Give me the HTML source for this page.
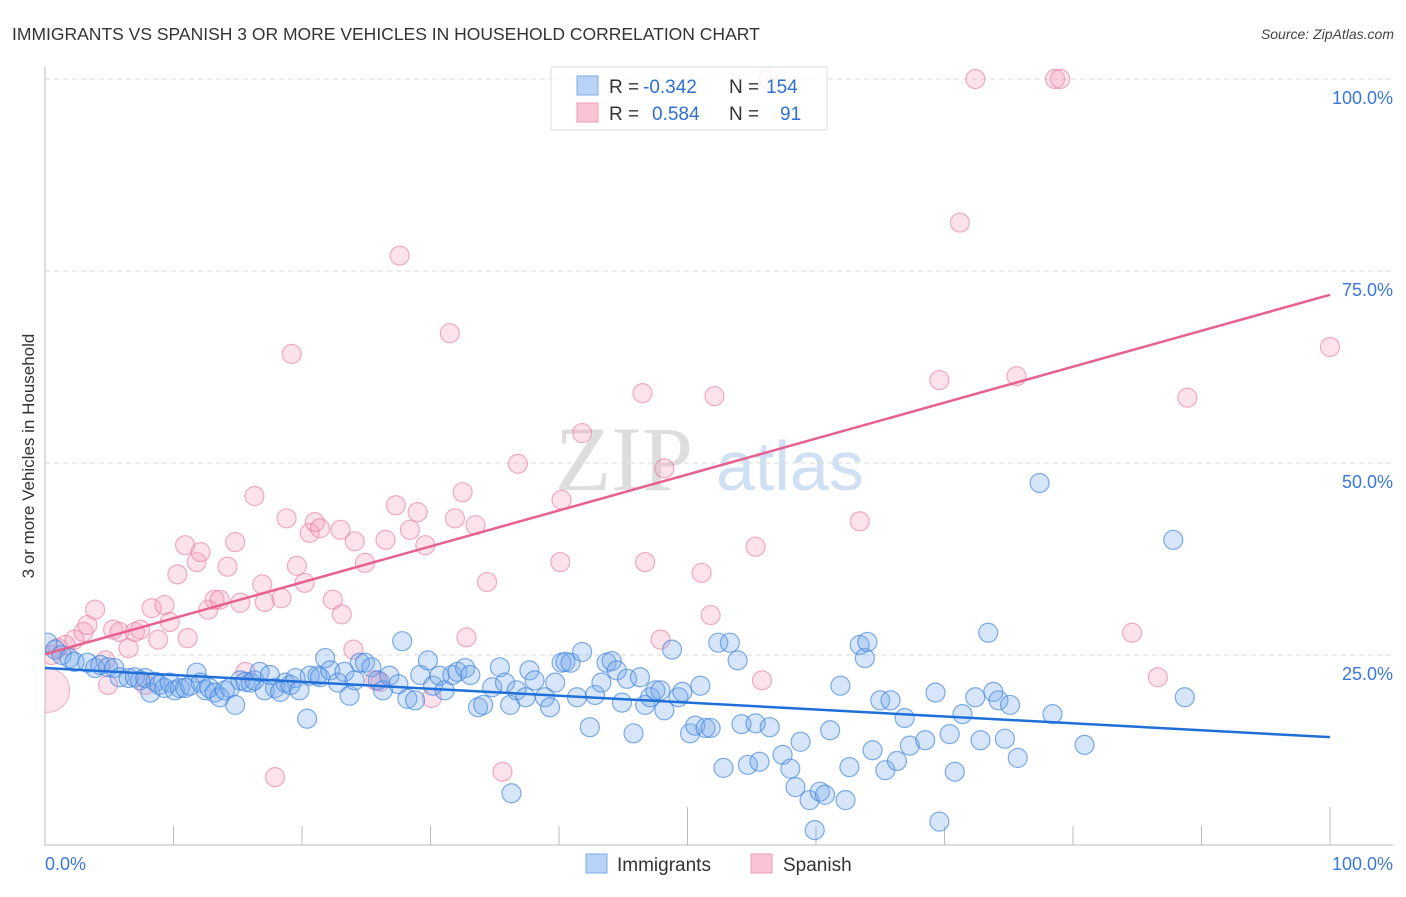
<!DOCTYPE html>
<html><head><meta charset="utf-8"><style>
html,body{margin:0;padding:0;background:#fff;}
body{width:1406px;height:892px;overflow:hidden;font-family:"Liberation Sans",sans-serif;}
</style></head><body>
<svg id="chart" width="1406" height="892" xmlns="http://www.w3.org/2000/svg" font-family="Liberation Sans, sans-serif">
<defs><clipPath id="plotclip"><rect x="45" y="60" width="1360" height="786"/></clipPath></defs>
<text x="12" y="40" font-size="17.5" fill="#333">IMMIGRANTS VS SPANISH 3 OR MORE VEHICLES IN HOUSEHOLD CORRELATION CHART</text>
<text x="1394" y="39" font-size="14" fill="#444" font-style="italic" text-anchor="end">Source: ZipAtlas.com</text>
<g>
<text x="555" y="490" font-size="92" fill="#ddd" font-family="Liberation Serif, serif">ZIP</text>
<text x="716" y="490" font-size="70" fill="#cfe0f4">atlas</text>
</g>
<g id="grid"></g>
<g id="axes"></g>
<g id="marks" clip-path="url(#plotclip)"></g>
<text transform="translate(34,456) rotate(-90)" font-size="17" fill="#333" text-anchor="middle">3 or more Vehicles in Household</text>
<g>
<rect x="551" y="67" width="276" height="63" fill="#fff" fill-opacity="0.85" stroke="#ddd"/>
<rect x="577" y="76" width="21" height="19" fill="#b8d3f5" stroke="#7eaee8"/>
<rect x="577" y="103" width="21" height="19" fill="#f9c4d4" stroke="#ee9cb7"/>
<text x="609" y="93" font-size="19" fill="#333">R =</text>
<text x="643" y="93" font-size="19" fill="#2f6fd0">-0.342</text>
<text x="729" y="93" font-size="19" fill="#333">N =</text>
<text x="766" y="93" font-size="19" fill="#2f6fd0">154</text>
<text x="609" y="120" font-size="19" fill="#333">R =</text>
<text x="652" y="120" font-size="19" fill="#2f6fd0">0.584</text>
<text x="729" y="120" font-size="19" fill="#333">N =</text>
<text x="780" y="120" font-size="19" fill="#2f6fd0">91</text>
</g>
<g>
<rect x="586" y="854" width="21" height="19" fill="#b8d3f5" stroke="#7eaee8"/>
<text x="617" y="871" font-size="19" fill="#333">Immigrants</text>
<rect x="751" y="854" width="21" height="19" fill="#f9c4d4" stroke="#ee9cb7"/>
<text x="783" y="871" font-size="19" fill="#333">Spanish</text>
</g>
</svg>
<script>
const yTicks=[25,50,75,100];
const yTickLabels=["25.0%","50.0%","75.0%","100.0%"];
const xTicks=[0,10,20,30,40,50,60,70,80,90,100];
const xEndLabels=["0.0%","100.0%"];
const blueX=[0.2,0.8,1.3,1.9,2.3,3.3,3.9,4.3,4.9,5.4,5.8,6.5,7.0,7.4,7.8,8.2,8.6,8.9,9.3,9.7,10.1,10.5,10.9,11.3,11.8,12.1,12.5,12.8,13.2,13.6,14.0,14.4,14.8,15.2,15.6,16.0,16.3,16.7,17.1,17.5,17.9,18.3,18.7,19.1,19.5,19.8,20.4,20.6,21.2,21.4,21.8,22.2,22.8,23.3,23.7,24.1,24.5,24.9,25.4,25.9,26.3,26.8,27.5,27.8,28.2,28.8,29.2,29.8,30.2,30.7,31.1,31.7,32.1,32.7,33.1,33.7,34.1,34.8,35.4,35.8,36.2,36.3,36.7,37.4,37.7,38.1,38.9,39.3,39.7,40.2,40.5,40.9,41.4,41.8,42.4,42.8,43.3,43.7,44.1,44.5,44.9,45.3,45.8,46.3,46.7,47.1,47.5,47.9,48.2,48.8,49.3,49.6,50.2,50.6,51.0,51.4,51.8,52.4,52.8,53.3,53.9,54.2,54.7,55.3,55.6,56.4,57.4,58.0,58.4,58.8,59.5,59.9,60.3,60.7,61.1,61.9,62.3,62.6,63.4,63.8,64.0,64.4,65.0,65.4,65.8,66.3,66.9,67.3,68.5,69.3,69.6,70.4,70.8,71.4,72.4,72.8,73.4,73.8,74.2,74.7,75.1,75.7,77.4,78.4,80.9,87.8,88.7];
const blueY=[26.6,25.7,25.0,24.6,24.1,24.0,23.3,23.7,23.4,23.3,22.1,22.0,22.1,21.7,22.0,20.1,21.5,21.1,20.7,21.4,20.4,20.7,20.7,21.0,22.7,21.4,20.4,20.7,20.1,19.5,20.4,20.7,18.5,21.7,21.5,21.4,21.7,22.8,20.4,22.4,20.7,20.2,21.4,21.1,22.0,20.4,16.7,22.3,22.3,22.1,24.6,23.0,21.4,22.8,19.7,21.7,24.0,24.0,23.4,21.7,20.4,22.3,21.2,26.8,19.3,19.1,22.4,24.3,21.0,22.3,20.4,22.4,22.8,23.3,22.4,18.2,18.5,20.8,23.4,21.4,18.5,7.0,20.4,19.5,23.0,21.7,19.5,18.2,21.4,24.0,24.1,24.0,19.5,25.4,15.6,19.8,21.4,24.0,24.2,23.0,18.8,21.9,14.8,22.1,18.5,19.5,20.4,20.4,17.8,25.7,19.5,20.2,14.8,15.8,21.0,15.5,15.5,26.6,10.3,26.6,24.3,16.0,10.7,16.1,11.1,15.6,12.0,10.2,7.8,13.7,6.1,2.2,7.2,6.8,15.2,21.0,6.1,10.4,26.3,24.6,26.7,12.6,19.1,10.0,19.1,11.2,16.8,13.2,13.9,20.1,3.3,14.7,9.8,17.3,19.5,13.9,27.9,20.2,19.1,14.1,18.5,11.6,47.4,17.3,13.3,40.0,19.5];
const pinkX=[0.5,1.0,1.6,2.3,3.0,3.3,3.9,4.7,4.9,5.3,5.8,6.5,7.0,7.4,7.8,8.3,8.8,9.3,9.7,10.3,10.9,11.1,11.8,12.1,12.7,13.2,13.6,14.2,14.8,15.2,15.6,16.3,16.9,17.1,17.9,18.4,18.8,19.2,19.6,20.2,20.6,21.0,21.4,22.4,23.0,23.1,24.0,24.1,24.9,25.7,26.1,26.5,27.3,27.6,28.4,29.0,29.6,30.1,31.5,31.9,32.5,32.8,33.5,34.4,35.6,36.8,40.1,40.2,41.8,46.5,46.7,47.9,48.2,51.1,51.8,52.1,55.3,55.8,56.3,63.4,69.6,71.2,72.4,75.6,78.6,79.0,84.6,86.6,88.9,100];
const pinkY=[25.0,25.9,26.3,27.0,28.0,28.9,30.9,24.3,21.1,28.3,28.0,25.9,28.0,28.3,21.1,31.1,27.0,31.5,29.3,35.5,39.3,27.2,37.1,38.4,30.9,32.2,32.2,36.5,39.7,31.8,22.8,45.7,34.2,31.9,9.1,32.4,42.8,64.2,36.6,34.4,40.9,42.3,41.5,32.2,41.3,30.3,25.7,39.8,37.0,21.7,21.5,40.0,44.5,77.0,41.3,43.6,39.3,19.4,66.9,42.8,46.2,27.3,41.9,34.5,9.8,49.9,37.1,45.2,53.9,59.1,37.1,27.0,49.3,35.7,30.2,58.7,39.1,21.7,100,42.4,60.8,81.3,100,61.3,100,100,27.9,22.1,58.5,65.1];
const pinkBig=[[0.2,20.4]];
const blueTrend=[[0,23.3],[100,14.3]];
const pinkTrend=[[0,25.1],[100,71.9]];

const NS="http://www.w3.org/2000/svg";
const X0=45,X1=1330,Y0=847,Y1=79;
function sx(v){return X0+(X1-X0)*v/100;}
function sy(v){return Y0-(Y0-Y1)*v/100;}
function mk(tag,attrs,parent){const e=document.createElementNS(NS,tag);for(const k in attrs)e.setAttribute(k,attrs[k]);parent.appendChild(e);return e;}
const grid=document.getElementById('grid'),axes=document.getElementById('axes'),marks=document.getElementById('marks');
yTicks.forEach((t,i)=>{
  const l=mk('line',{x1:45,x2:1393,y1:sy(t),y2:sy(t),stroke:'#d8d8d8','stroke-dasharray':'5,4'},grid);
  
  
  const tx=mk('text',{x:1393,y:sy(t)+25,'font-size':18,fill:'#3b78d8','text-anchor':'end'},axes);
  tx.textContent=yTickLabels[i];
  
  
});
const ya=mk('line',{x1:45,x2:45,y1:67,y2:845,stroke:'#bbb'},axes);


const xa=mk('line',{x1:45,x2:1393,y1:845,y2:845,stroke:'#bbb'},axes);


xTicks.forEach(t=>{
  if(t===0)return;
  const tall=(t===50||t===100);
  const tk=mk('line',{x1:sx(t),x2:sx(t),y1:tall?807:826,y2:845,stroke:'#bbb'},axes);
  
  
});
const xl0=mk('text',{x:45,y:870,'font-size':18,fill:'#3b78d8'},axes);
xl0.textContent=xEndLabels[0];


const xl1=mk('text',{x:1393,y:870,'font-size':18,fill:'#3b78d8','text-anchor':'end'},axes);
xl1.textContent=xEndLabels[1];



pinkBig.forEach(p=>{
  const c=mk('circle',{cx:sx(p[0]),cy:sy(p[1]),r:22,fill:'rgba(244,160,188,0.3)',stroke:'rgba(232,120,160,0.55)'},marks);
  
  
});
pinkX.forEach((v,i)=>{
  const c=mk('circle',{cx:sx(v),cy:sy(pinkY[i]),r:9.5,fill:'rgba(244,160,188,0.3)',stroke:'rgba(232,120,160,0.6)','stroke-width':1.2},marks);
  
  
});
blueX.forEach((v,i)=>{
  const c=mk('circle',{cx:sx(v),cy:sy(blueY[i]),r:9.5,fill:'rgba(120,170,235,0.3)',stroke:'rgba(60,130,220,0.65)','stroke-width':1.2},marks);
  
  
});
const bl=mk('line',{x1:sx(blueTrend[0][0]),y1:sy(blueTrend[0][1]),x2:sx(blueTrend[1][0]),y2:sy(blueTrend[1][1]),stroke:'#1f6fd8','stroke-width':2.5},marks);


const pl=mk('line',{x1:sx(pinkTrend[0][0]),y1:sy(pinkTrend[0][1]),x2:sx(pinkTrend[1][0]),y2:sy(pinkTrend[1][1]),stroke:'#e8608f','stroke-width':2.5},marks);


</script>
</body></html>
